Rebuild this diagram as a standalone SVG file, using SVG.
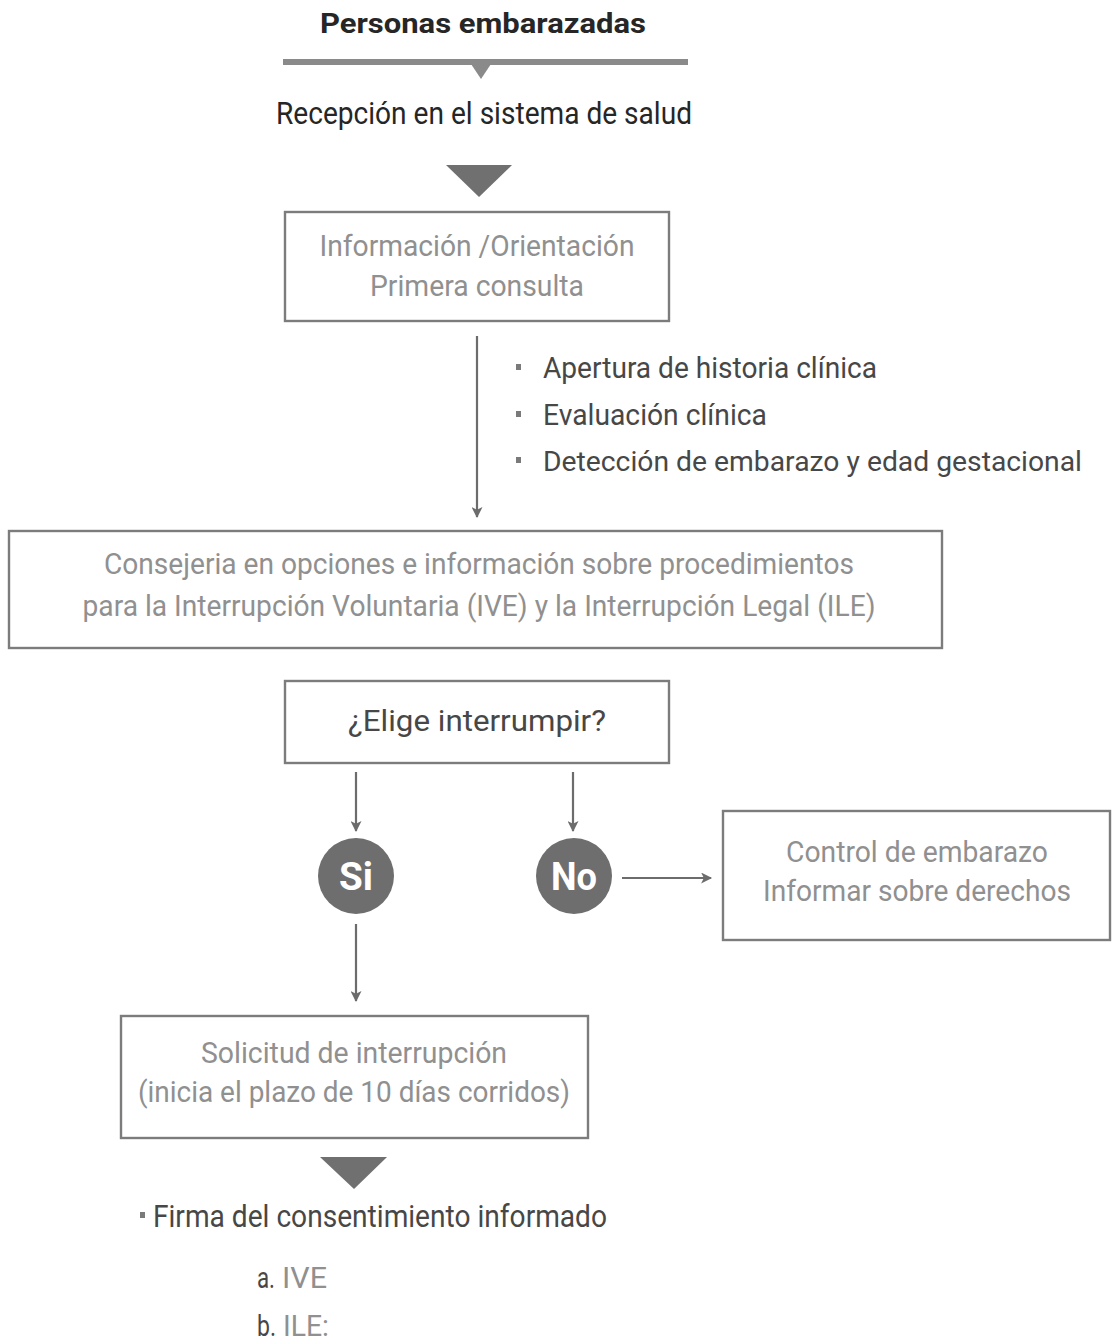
<svg xmlns="http://www.w3.org/2000/svg" width="1112" height="1344" viewBox="0 0 1112 1344">
<defs>
<style>
text{font-family:"Roboto","Liberation Sans",sans-serif;}
.dark{fill:#262626;}
.mid{fill:#474747;}
.light{fill:#909090;}
.bul{fill:#7a7a7a;}
.box{fill:#fff;stroke:#7c7c7c;stroke-width:2.4;}
.conn{stroke:#6c6c6c;stroke-width:2.2;fill:none;}
.circ{fill:#6e6e6e;}
.ctext{fill:#fff;font-weight:bold;font-size:38px;}
</style>
<marker id="ah" viewBox="0 0 10 10" refX="9" refY="5" markerWidth="13" markerHeight="11" orient="auto" markerUnits="userSpaceOnUse">
<path d="M0,0 L10,5 L0,10 L2.5,5 z" fill="#6c6c6c"/>
</marker>
</defs>
<rect width="1112" height="1344" fill="#fff"/>

<g id="title">
<text x="483" y="33" text-anchor="middle" class="dark" font-size="28" font-weight="bold" textLength="326" lengthAdjust="spacingAndGlyphs">Personas embarazadas</text>
<rect x="283" y="59" width="405" height="6" fill="#8a8a8a"/>
<path d="M471,64 L491,64 L481,79 z" fill="#8a8a8a"/>
</g>

<g id="recepcion">
<text x="484" y="124" text-anchor="middle" class="dark" font-size="31" textLength="416" lengthAdjust="spacingAndGlyphs">Recepción en el sistema de salud</text>
<path d="M446,165 L512,165 L479,197 z" fill="#707070"/>
</g>

<g id="info">
<rect class="box" x="285" y="212" width="384" height="109"/>
<text x="477" y="256" text-anchor="middle" class="light" font-size="30" textLength="315" lengthAdjust="spacingAndGlyphs">Información /Orientación</text>
<text x="477" y="296" text-anchor="middle" class="light" font-size="30" textLength="214" lengthAdjust="spacingAndGlyphs">Primera consulta</text>
</g>

<g id="bullets">
<rect class="bul" x="516" y="364" width="5" height="6"/>
<text x="543" y="378" class="mid" font-size="30" textLength="334" lengthAdjust="spacingAndGlyphs">Apertura de historia clínica</text>
<rect class="bul" x="516" y="411" width="5" height="6"/>
<text x="543" y="425" class="mid" font-size="30" textLength="224" lengthAdjust="spacingAndGlyphs">Evaluación clínica</text>
<rect class="bul" x="516" y="457" width="5" height="6"/>
<text x="543" y="471" class="mid" font-size="28" textLength="539" lengthAdjust="spacingAndGlyphs">Detección de embarazo y edad gestacional</text>
</g>

<g id="consejeria">
<rect class="box" x="9" y="531" width="933" height="117"/>
<text x="479" y="574" text-anchor="middle" class="light" font-size="29" textLength="750" lengthAdjust="spacingAndGlyphs">Consejeria en opciones e información sobre procedimientos</text>
<text x="479" y="616" text-anchor="middle" class="light" font-size="29" textLength="793" lengthAdjust="spacingAndGlyphs">para la Interrupción Voluntaria (IVE) y la Interrupción Legal (ILE)</text>
</g>

<g id="elige">
<rect class="box" x="285" y="681" width="384" height="82"/>
<text x="477" y="731" text-anchor="middle" class="mid" font-size="30" textLength="258" lengthAdjust="spacingAndGlyphs">¿Elige interrumpir?</text>
</g>

<g id="si">
<circle class="circ" cx="356" cy="876" r="38"/>
<text x="356" y="890" text-anchor="middle" class="ctext" textLength="34" lengthAdjust="spacingAndGlyphs">Si</text>
</g>

<g id="no">
<circle class="circ" cx="574" cy="876" r="38"/>
<text x="574" y="890" text-anchor="middle" class="ctext" textLength="46" lengthAdjust="spacingAndGlyphs">No</text>
</g>

<g id="control">
<rect class="box" x="723" y="811" width="387" height="129"/>
<text x="917" y="862" text-anchor="middle" class="light" font-size="30" textLength="262" lengthAdjust="spacingAndGlyphs">Control de embarazo</text>
<text x="917" y="901" text-anchor="middle" class="light" font-size="30" textLength="308" lengthAdjust="spacingAndGlyphs">Informar sobre derechos</text>
</g>

<g id="solicitud">
<rect class="box" x="121" y="1016" width="467" height="122"/>
<text x="354" y="1063" text-anchor="middle" class="light" font-size="30" textLength="306" lengthAdjust="spacingAndGlyphs">Solicitud de interrupción</text>
<text x="354" y="1102" text-anchor="middle" class="light" font-size="30" textLength="432" lengthAdjust="spacingAndGlyphs">(inicia el plazo de 10 días corridos)</text>
<path d="M320,1157 L387,1157 L354,1189 z" fill="#707070"/>
</g>

<g id="firma">
<rect class="bul" x="140" y="1212" width="5" height="6"/>
<text x="153" y="1227" class="mid" font-size="31" textLength="454" lengthAdjust="spacingAndGlyphs">Firma del consentimiento informado</text>
<text x="257" y="1288" class="mid" font-size="30" textLength="18" lengthAdjust="spacingAndGlyphs">a.</text>
<text x="282" y="1288" class="light" font-size="30" textLength="45" lengthAdjust="spacingAndGlyphs">IVE</text>
<text x="257" y="1336" class="mid" font-size="30" textLength="19" lengthAdjust="spacingAndGlyphs">b.</text>
<text x="283" y="1336" class="light" font-size="30" textLength="46" lengthAdjust="spacingAndGlyphs">ILE:</text>
</g>

<g id="connectors">
<line class="conn" x1="477" y1="336" x2="477" y2="517" marker-end="url(#ah)"/>
<line class="conn" x1="356" y1="772" x2="356" y2="831" marker-end="url(#ah)"/>
<line class="conn" x1="573" y1="772" x2="573" y2="831" marker-end="url(#ah)"/>
<line class="conn" x1="622" y1="878" x2="711" y2="878" marker-end="url(#ah)"/>
<line class="conn" x1="356" y1="924" x2="356" y2="1001" marker-end="url(#ah)"/>
</g>
</svg>
